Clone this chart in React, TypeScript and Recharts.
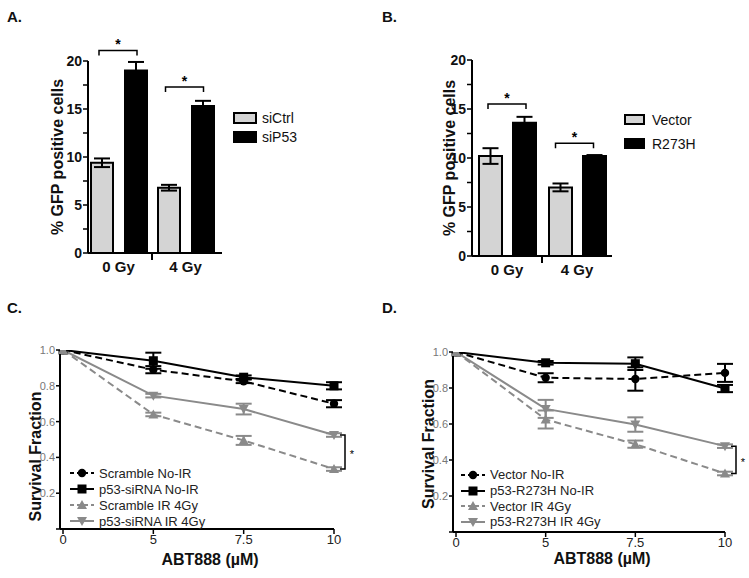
import React from 'react';
import { BarChart, Bar, XAxis, YAxis, ErrorBar, ReferenceLine, LineChart, Line, Label } from 'recharts';

const FONT = '"Liberation Sans", Arial, Helvetica, sans-serif';
const BLACK = '#000000';
const GRAY = '#8a8a8a';
const LIGHT = '#d4d4d4';

// ---- panels A / B : % GFP positive cells
const doses = ['0 Gy', '4 Gy'];
const siCtrl = [9.4, 6.8];
const siCtrlErr = [0.45, 0.3];
const siP53 = [19.0, 15.3];
const siP53Err = [0.9, 0.55];
const vector = [10.2, 7.0];
const vectorErr = [0.8, 0.4];
const r273h = [13.6, 10.2];
const r273hErr = [0.6, 0.1];
const barTicks = [0, 2.5, 5, 7.5, 10, 12.5, 15, 17.5, 20];
// significance brackets: [group, height]
const bracketsA: [string, number][] = [['0 Gy', 21.1], ['4 Gy', 17.3]];
const bracketsB: [string, number][] = [['0 Gy', 15.5], ['4 Gy', 11.5]];

// ---- panels C / D : survival fraction vs ABT888
const abtDoses = ['0', '5', '7.5', '10'];
const scrNoIR = [1.0, 0.89, 0.825, 0.7];
const scrNoIRErr = [0, 0.02, 0.01, 0.02];
const sip53NoIR = [1.0, 0.94, 0.848, 0.8];
const sip53NoIRErr = [0, 0.045, 0.01, 0.02];
const scrIR = [1.0, 0.64, 0.495, 0.335];
const scrIRErr = [0, 0.01, 0.025, 0.01];
const sip53IR = [1.0, 0.745, 0.67, 0.525];
const sip53IRErr = [0, 0.01, 0.03, 0.01];

const vecNoIR = [1.0, 0.857, 0.85, 0.884];
const vecNoIRErr = [0, 0.025, 0.065, 0.05];
const mutNoIR = [1.0, 0.94, 0.935, 0.797];
const mutNoIRErr = [0, 0.01, 0.035, 0.02];
const vecIR = [1.0, 0.625, 0.488, 0.325];
const vecIRErr = [0, 0.05, 0.02, 0.01];
const mutIR = [1.0, 0.684, 0.597, 0.477];
const mutIRErr = [0, 0.05, 0.04, 0.01];
const survTicks = [0, 0.2, 0.4, 0.6, 0.8, 1.0];

const barRows = (a: number[], ae: number[], b: number[], be: number[]) =>
  doses.map((d, i) => ({ dose: d, ctrl: a[i], ctrlErr: ae[i], treat: b[i], treatErr: be[i] }));

const lineRows = (sets: { key: string; v: number[]; e: number[] }[]) =>
  abtDoses.map((d, i) => {
    const row: any = { dose: d };
    sets.forEach(s => {
      row[s.key] = s.v[i];
      row[s.key + 'Err'] = s.e[i];
    });
    return row;
  });

const seriesC = [
  { key: 'a', name: 'Scramble No-IR', v: scrNoIR, e: scrNoIRErr, color: BLACK, dash: '7 4', shape: 'circle' },
  { key: 'b', name: 'p53-siRNA No-IR', v: sip53NoIR, e: sip53NoIRErr, color: BLACK, dash: '', shape: 'square' },
  { key: 'c', name: 'Scramble IR 4Gy', v: scrIR, e: scrIRErr, color: GRAY, dash: '7 4', shape: 'up' },
  { key: 'd', name: 'p53-siRNA IR 4Gy', v: sip53IR, e: sip53IRErr, color: GRAY, dash: '', shape: 'down' },
];
const seriesD = [
  { key: 'a', name: 'Vector No-IR', v: vecNoIR, e: vecNoIRErr, color: BLACK, dash: '7 4', shape: 'circle' },
  { key: 'b', name: 'p53-R273H No-IR', v: mutNoIR, e: mutNoIRErr, color: BLACK, dash: '', shape: 'square' },
  { key: 'c', name: 'Vector IR 4Gy', v: vecIR, e: vecIRErr, color: GRAY, dash: '7 4', shape: 'up' },
  { key: 'd', name: 'p53-R273H IR 4Gy', v: mutIR, e: mutIRErr, color: GRAY, dash: '', shape: 'down' },
];

function Marker({ shape, cx, cy, color }: any) {
  if (shape === 'circle') return <circle cx={cx} cy={cy} r={4.2} fill={color} />;
  if (shape === 'square') return <rect x={cx - 4.5} y={cy - 4.5} width={9} height={9} fill={color} />;
  if (shape === 'up') return <path d={`M${cx},${cy - 5} L${cx + 5},${cy + 4} L${cx - 5},${cy + 4} Z`} fill={color} />;
  return <path d={`M${cx},${cy + 5} L${cx + 5},${cy - 4} L${cx - 5},${cy - 4} Z`} fill={color} />;
}

// bracket spanning the two bars of a group (centre of band +- half)
const hBracket = (half: number, shift: number) => (props: any) => {
  const { x1, y1 } = props;
  const a = x1 + shift - half;
  const b = x1 + shift + half;
  return (
    <g>
      <path d={`M${a},${y1 + 5}V${y1}H${b}V${y1 + 5}`} stroke={BLACK} strokeWidth={1.5} fill="none" />
      <text x={(a + b) / 2} y={y1 - 1} textAnchor="middle" fontSize={14} fontWeight="bold" fontFamily={FONT} fill={BLACK}>*</text>
    </g>
  );
};

const vBracket = (props: any) => {
  const { x1, y1, y2 } = props;
  const x = x1 + 11;
  return (
    <g>
      <path d={`M${x - 5},${y1}H${x}V${y2}H${x - 5}`} stroke={BLACK} strokeWidth={1.5} fill="none" />
      <text x={x + 7} y={(y1 + y2) / 2 + 6} textAnchor="middle" fontSize={11} fontFamily={FONT} fill={BLACK} stroke="none">*</text>
    </g>
  );
};

const divider = (props: any) => {
  const y = Math.max(props.y1, props.y2);
  return <line x1={props.x1} x2={props.x1} y1={y} y2={y + 7} stroke={BLACK} strokeWidth={2} />;
};

const axisTitle = (text: string, vertical: boolean, dx: number, dy: number, size: number) => (props: any) => {
  const vb = props.viewBox;
  const cx = vb.x + vb.width / 2 + dx;
  const cy = vertical ? vb.y + vb.height / 2 + dy : vb.y + dy;
  return (
    <text
      x={cx}
      y={cy}
      textAnchor="middle"
      dominantBaseline="central"
      fontSize={size}
      fontWeight="bold"
      fontFamily={FONT}
      fill="#111"
      transform={vertical ? `rotate(-90, ${cx}, ${cy})` : undefined}
    >
      {text}
    </text>
  );
};

function GfpPanel({ data, brackets, margin, yWidth, barSize, barGap, pad, half, shifts }: any) {
  return (
    <BarChart width={375} height={290} data={data} margin={margin} barSize={barSize} barGap={barGap}>
      <XAxis
        dataKey="dose"
        padding={pad}
        tickLine={false}
        axisLine={{ stroke: BLACK, strokeWidth: 2 }}
        tick={{ fontSize: 15, fontWeight: 'bold', fill: '#111', fontFamily: FONT }}
        height={30}
        interval={0}
      />
      <YAxis
        width={yWidth}
        domain={[0, 20]}
        allowDataOverflow
        ticks={barTicks}
        interval={0}
        tickFormatter={(v: number) => (v % 5 === 0 ? String(v) : '')}
        tickSize={5}
        tickMargin={1}
        axisLine={{ stroke: BLACK, strokeWidth: 2 }}
        tickLine={{ stroke: BLACK, strokeWidth: 1.5 }}
        tick={{ fontSize: 14, fontWeight: 'bold', fill: '#111', fontFamily: FONT }}
      >
        <Label content={axisTitle('% GFP positive cells', true, 0, 0, 16)} />
      </YAxis>
      <Bar dataKey="ctrl" fill={LIGHT} stroke={BLACK} strokeWidth={2} isAnimationActive={false}>
        <ErrorBar dataKey="ctrlErr" width={8} stroke={BLACK} strokeWidth={2} />
      </Bar>
      <Bar dataKey="treat" fill={BLACK} stroke={BLACK} strokeWidth={2} isAnimationActive={false}>
        <ErrorBar dataKey="treatErr" width={8} stroke={BLACK} strokeWidth={2} />
      </Bar>
      <ReferenceLine x={doses[0]} position="end" ifOverflow="visible" shape={divider} />
      {brackets.map((b: [string, number], i: number) => (
        <ReferenceLine
          key={i}
          ifOverflow="visible"
          segment={[{ x: b[0], y: b[1] }, { x: b[0], y: b[1] }]}
          shape={hBracket(half, shifts[i])}
        />
      ))}
    </BarChart>
  );
}

function SurvivalPanel({ series, margin, xHeight, xTitle, yTitle, bracket }: any) {
  const data = lineRows(series);
  return (
    <LineChart width={375} height={288} data={data} margin={margin}>
      <XAxis
        dataKey="dose"
        padding={{ left: 3, right: 0 }}
        height={xHeight}
        tickSize={5}
        tickMargin={1}
        axisLine={{ stroke: BLACK, strokeWidth: 2 }}
        tickLine={{ stroke: BLACK, strokeWidth: 1.5 }}
        tick={{ fontSize: 13, fill: '#222', fontFamily: FONT }}
        interval={0}
      >
        <Label content={axisTitle('ABT888 (µM)', false, xTitle[0], xTitle[1], 16)} />
      </XAxis>
      <YAxis
        width={50}
        domain={[0, 1]}
        allowDataOverflow
        ticks={survTicks}
        interval={0}
        tickFormatter={(v: number) => (v === 0 ? '' : v.toFixed(1))}
        tickSize={4}
        tickMargin={1}
        axisLine={{ stroke: BLACK, strokeWidth: 2 }}
        tickLine={{ stroke: BLACK, strokeWidth: 1.5 }}
        tick={{ fontSize: 11, fill: '#777', fontFamily: FONT }}
      >
        <Label content={axisTitle('Survival Fraction', true, 0, yTitle, 16)} />
      </YAxis>
      {series.map((s: any) => (
        <Line
          key={s.key}
          dataKey={s.key}
          stroke={s.color}
          strokeWidth={2}
          strokeDasharray={s.dash || undefined}
          isAnimationActive={false}
          activeDot={false}
          dot={(p: any) => <Marker key={`${s.key}-${p.index}`} shape={s.shape} cx={p.cx} cy={p.cy} color={s.color} />}
        >
          <ErrorBar dataKey={s.key + 'Err'} width={8} stroke={s.color} strokeWidth={2} direction="y" />
        </Line>
      ))}
      <ReferenceLine
        ifOverflow="visible"
        segment={[{ x: '10', y: bracket[0] }, { x: '10', y: bracket[1] }]}
        shape={vBracket}
      />
    </LineChart>
  );
}

function BarLegend({ left, top, boxW, boxH, gap, textLeft, items }: any) {
  return (
    <>
      {items.map((it: any, i: number) => (
        <div key={it.name}>
          <div
            style={{
              position: 'absolute',
              left,
              top: top + i * gap,
              width: boxW - 4,
              height: boxH - 4,
              border: '2px solid #000',
              background: it.fill,
            }}
          />
          <div
            style={{
              position: 'absolute',
              left: textLeft,
              top: top + i * gap + boxH / 2 - 9,
              height: 18,
              lineHeight: '18px',
              fontSize: 14,
              fontFamily: FONT,
              color: '#111',
            }}
          >
            {it.name}
          </div>
        </div>
      ))}
    </>
  );
}

function LineLegend({ left, top, rowH, series }: any) {
  return (
    <div style={{ position: 'absolute', left, top, fontFamily: FONT, fontSize: 13, color: '#222' }}>
      {series.map((s: any) => (
        <div key={s.key} style={{ display: 'flex', alignItems: 'center', height: rowH }}>
          <svg width={24} height={12} style={{ display: 'block' }}>
            <line x1={0} x2={24} y1={6} y2={6} stroke={s.color} strokeWidth={2} strokeDasharray={s.dash ? '4 3' : undefined} />
            <Marker shape={s.shape} cx={12} cy={6} color={s.color} />
          </svg>
          <span style={{ marginLeft: 5, whiteSpace: 'nowrap' }}>{s.name}</span>
        </div>
      ))}
    </div>
  );
}

const panelTag: React.CSSProperties = {
  position: 'absolute',
  fontFamily: FONT,
  fontWeight: 'bold',
  fontSize: 15,
  color: '#111',
};

export default function App() {
  return (
    <div style={{ position: 'absolute', left: 0, top: 0, width: 749, height: 578, background: '#fff' }}>
      <div style={{ position: 'absolute', left: 0, top: 0 }}>
        <GfpPanel
          data={barRows(siCtrl, siCtrlErr, siP53, siP53Err)}
          brackets={bracketsA}
          margin={{ top: 61, right: 153, bottom: 7, left: 26 }}
          yWidth={62}
          barSize={22}
          barGap={12}
          pad={{ left: -3, right: 3 }}
          half={19}
          shifts={[-0.5, -1]}
        />
      </div>
      <div style={{ position: 'absolute', left: 375, top: 0 }}>
        <GfpPanel
          data={barRows(vector, vectorErr, r273h, r273hErr)}
          brackets={bracketsB}
          margin={{ top: 60, right: 138, bottom: 4, left: 51 }}
          yWidth={46}
          barSize={23}
          barGap={11}
          pad={{ left: 0, right: 0 }}
          half={19}
          shifts={[0, -2.5]}
        />
      </div>
      <div style={{ position: 'absolute', left: 0, top: 290 }}>
        <SurvivalPanel
          series={seriesC}
          margin={{ top: 60, right: 41, bottom: 10, left: 10 }}
          xHeight={39}
          xTitle={[13, 30]}
          yTitle={17}
          bracket={[sip53IR[3], scrIR[3]]}
        />
      </div>
      <div style={{ position: 'absolute', left: 375, top: 290 }}>
        <SurvivalPanel
          series={seriesD}
          margin={{ top: 62, right: 25, bottom: 4, left: 28 }}
          xHeight={42}
          xTitle={[13, 26]}
          yTitle={2}
          bracket={[mutIR[3], vecIR[3]]}
        />
      </div>

      <BarLegend
        left={233}
        top={112}
        boxW={24}
        boxH={12}
        gap={19}
        textLeft={262}
        items={[{ name: 'siCtrl', fill: LIGHT }, { name: 'siP53', fill: BLACK }]}
      />
      <BarLegend
        left={624}
        top={114}
        boxW={21}
        boxH={11}
        gap={24}
        textLeft={652}
        items={[{ name: 'Vector', fill: LIGHT }, { name: 'R273H', fill: BLACK }]}
      />
      <LineLegend left={70} top={465} rowH={16} series={seriesC} />
      <LineLegend left={461} top={467} rowH={15.7} series={seriesD} />

      <div style={{ ...panelTag, left: 7, top: 8 }}>A.</div>
      <div style={{ ...panelTag, left: 382, top: 8 }}>B.</div>
      <div style={{ ...panelTag, left: 7, top: 299 }}>C.</div>
      <div style={{ ...panelTag, left: 382, top: 299 }}>D.</div>
    </div>
  );
}
